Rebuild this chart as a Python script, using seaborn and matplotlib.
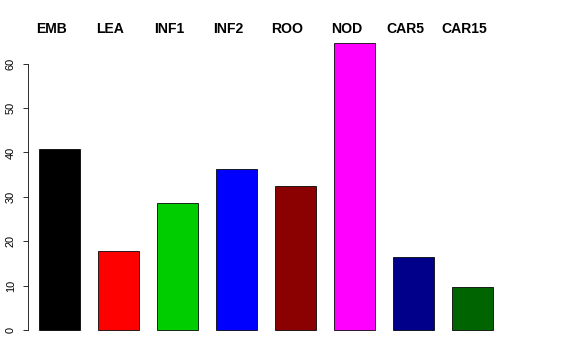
import matplotlib
matplotlib.use("Agg")
import matplotlib.pyplot as plt
import pandas as pd
import seaborn as sns

categories = ["EMB", "LEA", "INF1", "INF2", "ROO", "NOD", "CAR5", "CAR15"]
values = [40.8, 17.8, 28.6, 36.3, 32.4, 64.6, 16.4, 9.7]
colors = ["#000000", "#FF0000", "#00CD00", "#0000FF", "#8B0000", "#FF00FF",
          "#00008B", "#006400"]

sns.set_style("white")
plt.rcParams["font.family"] = ["Liberation Sans", "DejaVu Sans"]
plt.rcParams["text.color"] = "black"
plt.rcParams["ytick.color"] = "black"

df = pd.DataFrame({"cat": categories, "val": values})

fig = plt.figure(figsize=(8, 5), dpi=72)
ax = fig.add_axes([28 / 576, (360 - 341.5) / 360, (504 - 28) / 576, (341.5 - 31.6) / 360])
sns.barplot(data=df, x="cat", y="val", hue="cat", palette=colors, order=categories,
            hue_order=categories, width=0.71, edgecolor="black", linewidth=0.8,
            saturation=1, legend=False, ax=ax)

ax.set_xlim(-0.534, 7.534)
ax.set_ylim(-2.58, 67.2)
ax.set_xlabel("")
ax.set_ylabel("")
ax.set_xticks([])
ax.set_yticks(range(0, 61, 10))
ax.set_yticklabels([str(v) for v in range(0, 61, 10)], rotation=90, va="center",
                   fontsize=11)
ax.tick_params(axis="y", left=True, length=5, width=0.8, pad=7, color="black")
for s in ["top", "right", "bottom"]:
    ax.spines[s].set_visible(False)
ax.spines["left"].set_bounds(0, 60)
ax.spines["left"].set_color("black")
ax.spines["left"].set_linewidth(0.8)

for i, c in enumerate(categories):
    ax.text(i - 0.135, 67.8, c, ha="center", va="center", fontsize=14,
            fontweight="bold", color="black", clip_on=False)

fig.savefig("out.png", dpi=72)
